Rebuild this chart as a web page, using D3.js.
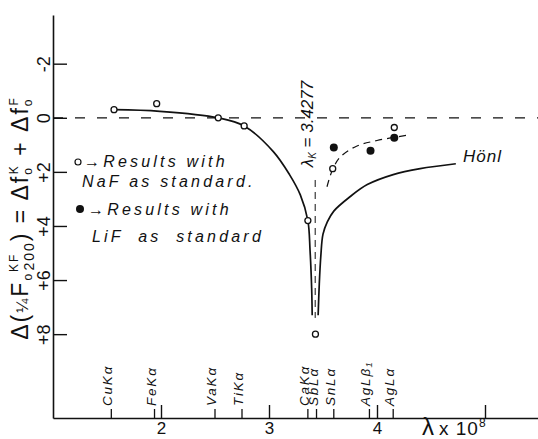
<!DOCTYPE html>
<html>
<head>
<meta charset="utf-8">
<style>
  body { margin: 0; background: #fff; }
  svg text { font-family: "Liberation Sans", "DejaVu Sans", sans-serif; fill: #111; }
</style>
</head>
<body>
<svg width="538" height="439"></svg>
<script src="https://cdn.jsdelivr.net/npm/d3@7"></script>
<script>
// y axis: values grow downward (positive below zero)
const yTicks = [-2, 0, 2, 4, 6, 8];
const yTickLabels = ["-2", "0", "+2", "+4", "+6", "+8"];
const xTicks = [2, 3, 4, 5];
const xTickLabels = ["2", "3", "4", ""];

// emission lines marked along the wavelength axis
const lineNames = ["CuKα", "FeKα", "VaKα", "TiKα", "CaKα", "SbLα", "SnLα", "AgLβ₁", "AgLα"];
const lineLambda = [1.54, 1.94, 2.50, 2.75, 3.36, 3.44, 3.60, 3.93, 4.15];

const kEdge = 3.4277;

// results with NaF as standard (open circles)
const nafLambda = [1.565, 1.96, 2.53, 2.77, 3.36, 3.43, 3.59, 4.16];
const nafValue = [-0.3, -0.52, 0.0, 0.3, 3.8, 8.0, 1.88, 0.36];

// results with LiF as standard (filled circles)
const lifLambda = [3.6, 3.94, 4.16];
const lifValue = [1.1, 1.22, 0.74];

// Hönl curve, two branches around the K edge
const honlLeftLambda = [1.565, 1.99, 2.53, 2.77, 3.04, 3.19, 3.29, 3.36, 3.38, 3.395, 3.40];
const honlLeftValue = [-0.3, -0.24, 0.0, 0.3, 1.25, 2.1, 2.85, 3.8, 4.9, 6.3, 7.3];
const honlRightLambda = [3.455, 3.465, 3.48, 3.50, 3.54, 3.60, 3.75, 3.91, 4.15, 4.40, 4.73];
const honlRightValue = [7.3, 6.2, 5.1, 4.3, 3.85, 3.45, 2.92, 2.47, 2.1, 1.88, 1.7];

// dashed experimental curve
const expLambda = [3.537, 3.59, 3.66, 3.81, 4.0, 4.29];
const expValue = [2.55, 1.9, 1.45, 1.05, 0.84, 0.64];

const svg = d3.select("svg");
const width = +svg.attr("width");
const height = +svg.attr("height");

const x = d3.scaleLinear().domain([1, 5.5]).range([53, 539]);
const y = d3.scaleLinear().domain([-3.8, 11.1]).range([15, 418]);

const ink = "#111";

// y axis
const yAxisG = svg
  .append("g")
  .attr("transform", `translate(${x(1)}, 0)`)
  .call(
    d3.axisLeft(y)
      .tickValues(yTicks)
      .tickSize(-14)
      .tickSizeOuter(0)
      .tickFormat((d, i) => yTickLabels[i])
  );
yAxisG.select(".domain").attr("stroke", ink).attr("stroke-width", 1.6);
yAxisG.selectAll(".tick line").attr("stroke", ink).attr("stroke-width", 1.4);
yAxisG
  .selectAll(".tick text")
  .attr("transform", "rotate(-90)")
  .attr("x", 0)
  .attr("y", -3)
  .attr("dy", 0)
  .attr("text-anchor", "middle")
  .attr("font-size", 18)
  .attr("fill", ink);

// x axis
const xAxisG = svg
  .append("g")
  .attr("transform", `translate(0, ${y(11.1)})`)
  .call(
    d3.axisBottom(x)
      .tickValues(xTicks)
      .tickSize(-13)
      .tickSizeOuter(0)
      .tickFormat((d, i) => xTickLabels[i])
  );
xAxisG.select(".domain").attr("stroke", ink).attr("stroke-width", 1.6);
xAxisG.selectAll(".tick line").attr("stroke", ink).attr("stroke-width", 1.4);
xAxisG
  .selectAll(".tick text")
  .attr("y", 16)
  .attr("dy", 0)
  .attr("font-size", 17)
  .attr("fill", ink);

svg
  .append("text")
  .attr("x", 422)
  .attr("y", 435)
  .attr("font-size", 19)
  .attr("letter-spacing", 1)
  .call(t => {
    t.append("tspan").attr("font-size", 24).text("λ");
    t.append("tspan").attr("dx", 4).text("x 10");
    t.append("tspan").attr("font-size", 12).attr("dy", -8).text("8");
  });

// emission line markers
const linesG = svg.append("g");
linesG
  .selectAll("line")
  .data(lineLambda)
  .join("line")
  .attr("x1", d => x(d))
  .attr("x2", d => x(d))
  .attr("y1", y(11.1))
  .attr("y2", y(11.1) - 9)
  .attr("stroke", ink)
  .attr("stroke-width", 1.3);
linesG
  .selectAll("text")
  .data(lineLambda)
  .join("text")
  .attr("transform", d => `translate(${x(d) + 1}, ${y(11.1) - 12}) rotate(-90)`)
  .attr("font-size", 13.5)
  .attr("font-style", "italic")
  .attr("letter-spacing", 1.8)
  .text((d, i) => lineNames[i]);

// zero line
svg
  .append("line")
  .attr("x1", x(1))
  .attr("x2", width)
  .attr("y1", y(0))
  .attr("y2", y(0))
  .attr("stroke", ink)
  .attr("stroke-width", 1.2)
  .attr("stroke-dasharray", "10,12");

// K edge line
svg
  .append("line")
  .attr("x1", x(kEdge))
  .attr("x2", x(kEdge))
  .attr("y1", y(2.3))
  .attr("y2", y(7.4))
  .attr("stroke", ink)
  .attr("stroke-width", 1)
  .attr("stroke-dasharray", "7,5");

svg
  .append("text")
  .attr("transform", `translate(${x(kEdge) - 2}, 124) rotate(-90)`)
  .attr("text-anchor", "middle")
  .attr("font-size", 17)
  .attr("font-style", "italic")
  .call(t => {
    t.append("tspan").text("λ");
    t.append("tspan").attr("font-size", 10).attr("dy", 3).text("K");
    t.append("tspan").attr("dy", -3).text(" = 3.4277");
  });

const line = d3
  .line()
  .x(d => x(d[0]))
  .y(d => y(d[1]))
  .curve(d3.curveCatmullRom.alpha(0.5));

const honlLeft = honlLeftLambda.map((d, i) => [d, honlLeftValue[i]]);
const honlRight = honlRightLambda.map((d, i) => [d, honlRightValue[i]]);
const exp = expLambda.map((d, i) => [d, expValue[i]]);

svg.append("path").attr("d", line(honlLeft))
  .attr("fill", "none").attr("stroke", ink).attr("stroke-width", 1.7);
svg.append("path").attr("d", line(honlRight))
  .attr("fill", "none").attr("stroke", ink).attr("stroke-width", 1.7);
svg.append("path").attr("d", line(exp))
  .attr("fill", "none").attr("stroke", ink).attr("stroke-width", 1.2)
  .attr("stroke-dasharray", "7,5");

svg
  .append("text")
  .attr("x", 463)
  .attr("y", 162)
  .attr("font-size", 17)
  .attr("font-style", "italic")
  .attr("letter-spacing", 1)
  .text("Hönl");

// points
svg
  .append("g")
  .selectAll("circle")
  .data(nafLambda)
  .join("circle")
  .attr("cx", d => x(d))
  .attr("cy", (d, i) => y(nafValue[i]))
  .attr("r", 3)
  .attr("fill", "#fff")
  .attr("stroke", ink)
  .attr("stroke-width", 1.3);

svg
  .append("g")
  .selectAll("circle")
  .data(lifLambda)
  .join("circle")
  .attr("cx", d => x(d))
  .attr("cy", (d, i) => y(lifValue[i]))
  .attr("r", 4)
  .attr("fill", ink);

// legend
const legend = svg.append("g")
  .attr("font-size", 16)
  .attr("font-style", "italic")
  .attr("letter-spacing", 3.2);

legend.append("circle").attr("cx", 78).attr("cy", 162).attr("r", 3)
  .attr("fill", "#fff").attr("stroke", ink).attr("stroke-width", 1.2);
legend.append("text").attr("x", 84).attr("y", 167).text("→Results with");
legend.append("text").attr("x", 82).attr("y", 187).text("NaF as standard.");

legend.append("circle").attr("cx", 80).attr("cy", 209).attr("r", 4).attr("fill", ink);
legend.append("text").attr("x", 88).attr("y", 215).text("→Results with");
legend.append("text").attr("x", 92).attr("y", 242).attr("word-spacing", 7).text("LiF as standard");

// y axis title
svg
  .append("text")
  .attr("transform", "translate(28, 218) rotate(-90)")
  .attr("text-anchor", "middle")
  .attr("font-size", 23)
  .attr("letter-spacing", 2)
  .call(t => {
    t.append("tspan").text("Δ(");
    t.append("tspan").attr("font-size", 17).text("¼");
    t.append("tspan").text("F");
    t.append("tspan").attr("font-size", 12).attr("dy", 4).text("o");
    t.append("tspan").attr("font-size", 12).attr("dy", -14).text("KF");
    t.append("tspan").attr("font-size", 14).attr("dx", -18).attr("dy", 16).text("200");
    t.append("tspan").attr("dy", -6).text(") = Δf");
    t.append("tspan").attr("font-size", 12).attr("dy", 4).text("o");
    t.append("tspan").attr("font-size", 12).attr("dy", -14).attr("dx", -8).text("K");
    t.append("tspan").attr("dy", 10).text(" + Δf");
    t.append("tspan").attr("font-size", 12).attr("dy", 4).text("o");
    t.append("tspan").attr("font-size", 12).attr("dy", -14).attr("dx", -8).text("F");
  });
</script>
</body>
</html>
